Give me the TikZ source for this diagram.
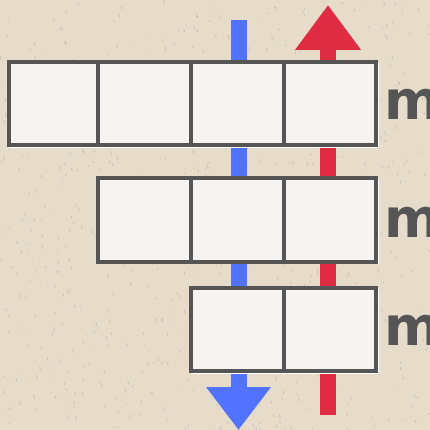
\documentclass[tikz,border=0pt]{standalone}
\usepackage{fontspec}
\newfontfamily\labfont{DejaVu Sans}
\usetikzlibrary{arrows.meta}
\definecolor{bgc}{HTML}{E7DCCA}
\definecolor{cellfill}{HTML}{F6F3F1}
\definecolor{edge}{HTML}{555555}
\definecolor{upred}{HTML}{E02C42}
\definecolor{downblue}{HTML}{5173FF}
\tikzset{
  cell/.style={draw=edge, fill=cellfill, line width=4pt, minimum height=83pt, inner sep=0pt, outer sep=0pt},
  shadowline/.style={draw=white, line width=1.2pt},
  rowlabel/.style={font=\labfont\bfseries\fontsize{54}{54}\selectfont, text=edge, inner sep=0pt, anchor=base west},
  flow/.style={line width=16pt, line cap=butt},
}
\begin{document}
\begin{tikzpicture}[x=1pt,y=-1pt]
\useasboundingbox (0,0) rectangle (430,430);
\fill[bgc] (0,0) rectangle (430,430);
% random texture
\pgfmathsetseed{7}
\foreach \i in {1,...,700}{
  \pgfmathsetmacro{\px}{rnd*430}
  \pgfmathsetmacro{\py}{rnd*430}
  \pgfmathsetmacro{\pl}{1+rnd*3}
  \draw[draw=black!25!bgc, line width=0.6pt, opacity=0.6] (\px,\py) -- ++(\pl*0.3,\pl);
}
% flow lines
\coordinate (bs) at (238.5,20);
\coordinate (be) at (238.5,430);
\coordinate (rs) at (328,415);
\coordinate (re) at (328,5);
\draw[flow, downblue, -{Triangle[width=62pt,length=43pt]}] (bs) -- (be);
\draw[flow, upred, -{Triangle[width=63pt,length=45pt]}] (rs) -- (re);
% shadows
\draw[shadowline] (378.5,63) -- (378.5,147.5) -- (9,147.5);
\draw[shadowline] (378.5,180) -- (378.5,263.5) -- (99,263.5);
\draw[shadowline] (378.5,289) -- (378.5,373.5) -- (192,373.5);
% row 1
\node[cell, minimum width=89pt] (a1) at (53.5,103.5) {};
\node[cell, minimum width=93pt] (a2) at (144.5,103.5) {};
\node[cell, minimum width=93pt] (a3) at (237.5,103.5) {};
\node[cell, minimum width=92pt] (a4) at (330,103.5) {};
% row 2
\node[cell, minimum width=93pt] (b1) at (144.5,220) {};
\node[cell, minimum width=93pt] (b2) at (237.5,220) {};
\node[cell, minimum width=92pt] (b3) at (330,220) {};
% row 3
\node[cell, minimum width=93pt] (c1) at (237.5,329.5) {};
\node[cell, minimum width=92pt] (c2) at (330,329.5) {};
% labels
\node[rowlabel] (l1) at (384,120) {m};
\node[rowlabel] (l2) at (384,237) {m};
\node[rowlabel] (l3) at (384,345) {m};
\end{tikzpicture}
\end{document}
